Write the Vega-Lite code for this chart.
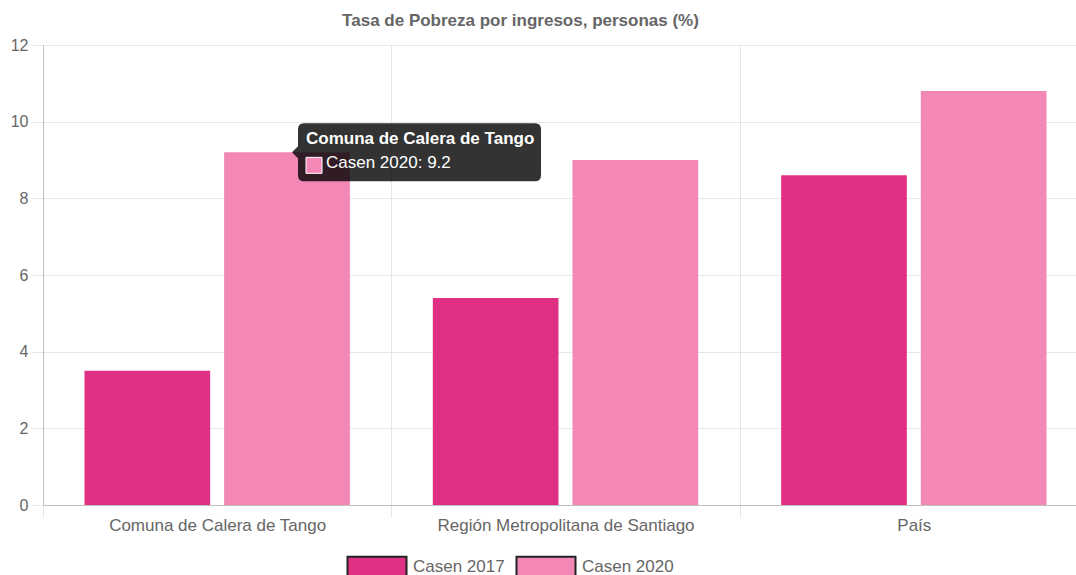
{
  "$schema": "https://vega.github.io/schema/vega-lite/v6.json",
  "autosize": {"type": "none"},
  "width": 1045,
  "height": 460,
  "padding": {"left": 43, "top": 45, "right": -12, "bottom": 70},
  "background": "white",
  "config": {"font": "Liberation Sans", "view": {"stroke": null}},
  "title": {
    "text": "Tasa de Pobreza por ingresos, personas (%)",
    "fontSize": 17,
    "fontWeight": "bold",
    "color": "#666666",
    "anchor": "middle",
    "dx": -45,
    "offset": 7
  },
  "data": {
    "values": [
      {"cat": "Comuna de Calera de Tango", "serie": "Casen 2017", "valor": 3.5},
      {"cat": "Comuna de Calera de Tango", "serie": "Casen 2020", "valor": 9.2},
      {"cat": "Región Metropolitana de Santiago", "serie": "Casen 2017", "valor": 5.4},
      {"cat": "Región Metropolitana de Santiago", "serie": "Casen 2020", "valor": 9.0},
      {"cat": "País", "serie": "Casen 2017", "valor": 8.6},
      {"cat": "País", "serie": "Casen 2020", "valor": 10.8}
    ]
  },
  "encoding": {
    "x": {
      "field": "cat",
      "type": "nominal",
      "sort": null,
      "title": null,
      "scale": {"paddingInner": 0, "paddingOuter": 0},
      "axis": {
        "labelAngle": 0,
        "labelFontSize": 17,
        "labelColor": "#666666",
        "labelPadding": 0,
        "labelLimit": 500,
        "tickBand": "extent",
        "grid": true,
        "gridColor": "#e6e6e6",
        "tickColor": "#e6e6e6",
        "tickSize": 12,
        "domainColor": "#bfbfbf"
      }
    },
    "xOffset": {
      "field": "serie",
      "type": "nominal",
      "scale": {"paddingInner": 0.1, "paddingOuter": 0.297}
    },
    "y": {
      "field": "valor",
      "type": "quantitative",
      "title": null,
      "scale": {"domain": [0, 12], "nice": false},
      "axis": {
        "values": [0, 2, 4, 6, 8, 10, 12],
        "labelFontSize": 16,
        "labelColor": "#666666",
        "labelPadding": 3,
        "grid": true,
        "gridColor": "#e6e6e6",
        "tickColor": "#e6e6e6",
        "tickSize": 12,
        "domainColor": "#bfbfbf"
      }
    }
  },
  "layer": [
    {
      "mark": {"type": "bar"},
      "encoding": {
        "color": {
          "field": "serie",
          "type": "nominal",
          "title": null,
          "scale": {"domain": ["Casen 2017", "Casen 2020"], "range": ["#e03083", "#f387b5"]},
          "legend": {
            "orient": "none",
            "direction": "horizontal",
            "legendX": 297,
            "legendY": 513,
            "symbolType": "M-1,-10H58V10H-1Z",
            "symbolSize": 4,
            "symbolStrokeColor": "#222222",
            "symbolStrokeWidth": 2,
            "symbolOpacity": 1,
            "labelFontSize": 17,
            "labelColor": "#666666",
            "labelOffset": 56,
            "columnPadding": 4
          }
        }
      }
    },
    {
      "transform": [{"filter": "datum.cat === 'Comuna de Calera de Tango' && datum.serie === 'Casen 2020'"}],
      "mark": {
        "type": "point",
        "shape": "M17,-29H248Q254,-29 254,-23V23Q254,29 248,29H17Q11,29 11,23V6L5,0L11,-6V-23Q11,-29 17,-29Z",
        "size": 4,
        "filled": true,
        "fill": "#000000",
        "fillOpacity": 0.8,
        "strokeWidth": 0,
        "opacity": 1
      }
    },
    {
      "transform": [{"filter": "datum.cat === 'Comuna de Calera de Tango' && datum.serie === 'Casen 2020'"}],
      "mark": {
        "type": "point",
        "shape": "M19,5H35V21H19Z",
        "size": 4,
        "filled": true,
        "fill": "#f387b5",
        "stroke": "#ffffff",
        "strokeWidth": 1,
        "opacity": 1
      }
    },
    {
      "transform": [{"filter": "datum.cat === 'Comuna de Calera de Tango' && datum.serie === 'Casen 2020'"}],
      "mark": {
        "type": "text",
        "align": "left",
        "baseline": "middle",
        "dx": 19,
        "dy": -13,
        "fontSize": 17,
        "fontWeight": "bold",
        "color": "#ffffff"
      },
      "encoding": {"text": {"field": "cat"}}
    },
    {
      "transform": [
        {"filter": "datum.cat === 'Comuna de Calera de Tango' && datum.serie === 'Casen 2020'"},
        {"calculate": "datum.serie + ': ' + format(datum.valor, '.1f')", "as": "etiqueta"}
      ],
      "mark": {
        "type": "text",
        "align": "left",
        "baseline": "middle",
        "dx": 39,
        "dy": 11,
        "fontSize": 17,
        "color": "#ffffff"
      },
      "encoding": {"text": {"field": "etiqueta"}}
    }
  ]
}
